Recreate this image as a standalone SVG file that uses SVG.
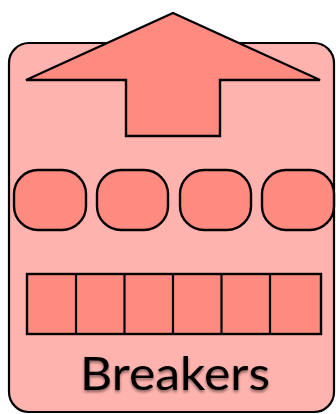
<svg xmlns="http://www.w3.org/2000/svg" width="336" height="414" viewBox="0 0 336 414">
<defs>
<style>
.box{fill:#ffb3ae;stroke:#000;stroke-width:2.2}
.part{fill:#ff8a80;stroke:#000;stroke-width:2.4;stroke-linejoin:miter}
.lbl{font-family:"Lato","Open Sans",sans-serif;font-size:47px;fill:#000}
</style>
<filter id="sh" x="-10%" y="-20%" width="120%" height="150%">
<feGaussianBlur in="SourceAlpha" stdDeviation="1.5"/>
<feOffset dx="0" dy="2" result="b"/>
<feComponentTransfer><feFuncA type="linear" slope="0.5"/></feComponentTransfer>
<feMerge><feMergeNode/><feMergeNode in="SourceGraphic"/></feMerge>
</filter>
</defs>
<g id="breakers">
<rect class="box" x="9" y="43" width="325" height="369" rx="20" ry="20"/>
</g>
<g id="arrow">
<polygon class="part" points="173,13 320,80 220,80 220,136 126,136 126,80 26,80"/>
</g>
<g id="pills">
<rect class="part" x="14" y="170" width="72" height="60" rx="24" ry="24"/>
<rect class="part" x="97" y="170" width="71" height="60" rx="24" ry="24"/>
<rect class="part" x="180" y="170" width="71" height="60" rx="24" ry="24"/>
<rect class="part" x="262" y="170" width="72" height="60" rx="24" ry="24"/>
</g>
<g id="cells">
<rect class="part" x="27" y="274" width="294" height="60"/>
<path fill="none" stroke="#000" stroke-width="2.2" d="M76,274V334M124.5,274V334M173,274V334M221.5,274V334M270,274V334"/>
</g>
<g id="label">
<text class="lbl" x="175" y="390" text-anchor="middle" textLength="190" lengthAdjust="spacingAndGlyphs" filter="url(#sh)">Breakers</text>
</g>
</svg>
